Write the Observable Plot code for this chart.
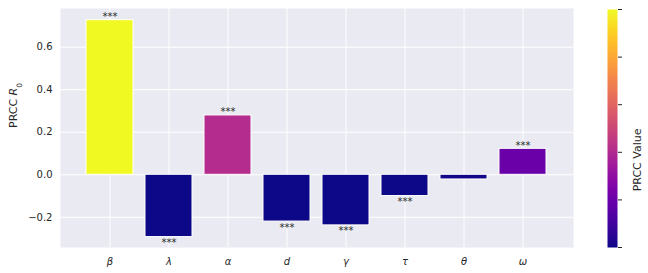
<!DOCTYPE html>
<html>
<head>
<meta charset="utf-8">
<script src="https://cdn.jsdelivr.net/npm/d3@7"></script>
<script src="https://cdn.jsdelivr.net/npm/@observablehq/plot@0.6"></script>
<style>
  html, body { margin: 0; padding: 0; background: white; }
  #wrap { position: relative; width: 648px; height: 273px; }
  #main { position: absolute; left: 0; top: 0; }
  #cbar { position: absolute; left: 590px; top: 0; }
</style>
</head>
<body>
<div id="wrap"><div id="main"></div><div id="cbar"></div></div>
<script>
// Data
const params = ["β", "λ", "α", "d", "γ", "τ", "θ", "ω"];
const prcc = [0.727, -0.293, 0.279, -0.220, -0.238, -0.100, -0.022, 0.122];
const stars = ["***", "***", "***", "***", "***", "***", "", "***"];
const yTicks = [-0.2, 0.0, 0.2, 0.4, 0.6];
const cbarTicks = [0, 0.2, 0.4, 0.6, 0.8, 1.0];

const data = params.map((p, i) => ({param: p, value: prcc[i], stars: stars[i]}));
const textColor = "#262626";

const main = Plot.plot({
  width: 648,
  height: 273,
  marginLeft: 60,
  marginRight: 75,
  marginTop: 8,
  marginBottom: 26,
  style: {fontFamily: "DejaVu Sans", fontSize: "10px", color: textColor, background: "white"},
  x: {domain: params, paddingInner: 0.2, paddingOuter: 0.375, label: null},
  y: {domain: [-0.342, 0.782], label: null},
  color: {type: "linear", scheme: "plasma", domain: [-0.03, 0.727], clamp: true},
  marks: [
    Plot.frame({fill: "#eaeaf2", stroke: null}),
    Plot.gridX({stroke: "white", strokeOpacity: 1, strokeWidth: 1}),
    Plot.gridY(yTicks, {stroke: "white", strokeOpacity: 1, strokeWidth: 1}),
    Plot.barY(data, {x: "param", y: "value", fill: "value", stroke: "white", strokeWidth: 1}),
    Plot.text(data.filter(d => d.value >= 0 && d.stars), {x: "param", y: "value", text: "stars", lineAnchor: "bottom", dy: 0, fontSize: 10, fill: textColor}),
    Plot.text(data.filter(d => d.value < 0 && d.stars), {x: "param", y: "value", text: "stars", lineAnchor: "top", dy: 2, fontSize: 10, fill: textColor}),
    Plot.axisY({ticks: yTicks, tickFormat: ".1f", tickSize: 0, tickPadding: 8, label: null, fontSize: 10}),
    Plot.axisX({tickSize: 0, tickPadding: 10, label: null, fontSize: 10, fontStyle: "italic"}),
    Plot.text(["PRCC R0"], {frameAnchor: "left", rotate: -90, dx: -47, fontSize: 11, fill: textColor})
  ]
});
d3.select(main).selectAll("text").filter(function() { return this.textContent === "PRCC R0"; })
  .each(function() {
    const t = d3.select(this);
    t.text("PRCC ");
    t.append("tspan").attr("font-style", "italic").text("R");
    t.append("tspan").attr("baseline-shift", "sub").attr("font-size", "7.5").text("0");
  });
document.getElementById("main").appendChild(main);

const cbar = Plot.plot({
  width: 58,
  height: 273,
  marginLeft: 17,
  marginRight: 31,
  marginTop: 9,
  marginBottom: 26,
  style: {fontFamily: "DejaVu Sans", fontSize: "11px", color: textColor, background: "transparent"},
  x: {domain: [0, 1], axis: null},
  y: {domain: [0, 1], label: null},
  color: {type: "linear", scheme: "plasma", domain: [0, 1]},
  marks: [
    Plot.raster({x1: 0, x2: 1, y1: 0, y2: 1, width: 1, height: 240, fill: (x, y) => y, imageRendering: "auto"}),
    Plot.axisY({anchor: "right", ticks: cbarTicks, tickFormat: () => "", tickSize: 4, label: null, stroke: textColor}),
    Plot.text(["PRCC Value"], {frameAnchor: "right", rotate: -90, dx: 20, fontSize: 11, fill: textColor})
  ]
});
document.getElementById("cbar").appendChild(cbar);
</script>
</body>
</html>
